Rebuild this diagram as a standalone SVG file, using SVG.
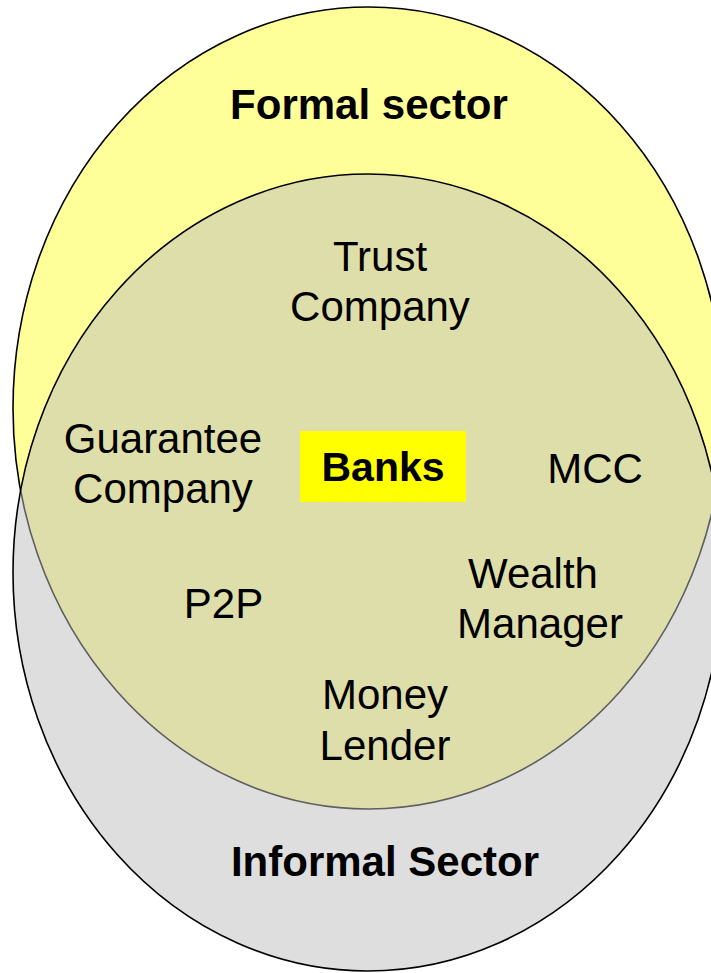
<svg xmlns="http://www.w3.org/2000/svg" width="711" height="973" viewBox="0 0 711 973">
  <style>
    .lbl { font-family: "Liberation Sans", Arial, sans-serif; font-size: 42px; fill: #000; text-anchor: middle; }
    .bold { font-weight: bold; }
  </style>
  <rect x="0" y="0" width="711" height="973" fill="#ffffff"/>
  <g id="formal-sector">
    <ellipse cx="368.6" cy="408" rx="355.6" ry="401" fill="#ffff99" stroke="#000" stroke-width="1.6"/>
    <text class="lbl bold" x="369" y="119">Formal sector</text>
  </g>
  <g id="informal-sector">
    <ellipse cx="368" cy="572.5" rx="355" ry="398.5" fill="#bebebe" fill-opacity="0.5" stroke="#000" stroke-width="1.6"/>
    <text class="lbl bold" x="385" y="876">Informal Sector</text>
  </g>
  <g id="trust-company">
    <text class="lbl" x="380" y="271">Trust</text>
    <text class="lbl" x="380" y="321">Company</text>
  </g>
  <g id="guarantee-company">
    <text class="lbl" x="163" y="453">Guarantee</text>
    <text class="lbl" x="163" y="503">Company</text>
  </g>
  <g id="banks">
    <rect x="300" y="431" width="166" height="71" fill="#ffff00"/>
    <text class="lbl bold" x="383" y="481" style="font-size:41px">Banks</text>
  </g>
  <g id="mcc">
    <text class="lbl" x="595" y="483">MCC</text>
  </g>
  <g id="p2p">
    <text class="lbl" x="223.5" y="618">P2P</text>
  </g>
  <g id="wealth-manager">
    <text class="lbl" x="533" y="588">Wealth</text>
    <text class="lbl" x="540" y="638">Manager</text>
  </g>
  <g id="money-lender">
    <text class="lbl" x="385" y="709">Money</text>
    <text class="lbl" x="385" y="760">Lender</text>
  </g>
</svg>
